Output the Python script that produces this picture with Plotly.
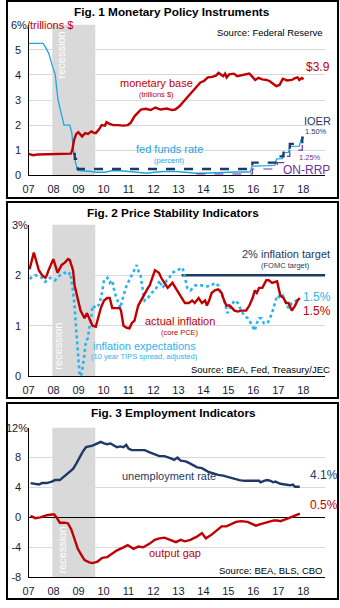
import plotly.graph_objects as go

W, H = 340, 608
FONT = "Liberation Sans, Arial, sans-serif"
RED = "#C00000"
NAVY = "#1F3864"
LBLUE = "#1EA6E0"
DOTBLUE = "#2AB4EE"
PURPLE = "#7030A0"
GRID = "#D9D9D9"
TICKCOL = "#1a1a3a"

year_ticks = list(range(2007, 2019))
year_labels = ["07", "08", "09", "10", "11", "12", "13", "14", "15", "16", "17", "18"]
recession = (2007.95, 2009.67)

# ---------- Fig 1 data ----------
mb_years = [2007.00, 2007.18, 2007.38, 2007.84, 2008.23, 2008.69, 2008.75, 2008.82, 2008.91, 2008.99,
            2009.14, 2009.27, 2009.38, 2009.51, 2009.60, 2009.69, 2009.80, 2009.93, 2010.06, 2010.12,
            2010.25, 2010.39, 2010.58, 2010.78, 2010.97, 2011.08, 2011.24, 2011.37, 2011.50, 2011.69,
            2011.89, 2012.08, 2012.28, 2012.54, 2012.74, 2012.87, 2013.04, 2013.26, 2013.52, 2013.72,
            2013.88, 2014.01, 2014.18, 2014.35, 2014.50, 2014.61, 2014.70, 2014.79, 2014.87, 2014.93,
            2015.03, 2015.22, 2015.35, 2015.55, 2015.75, 2015.84, 2015.94, 2016.07, 2016.20, 2016.36,
            2016.53, 2016.66, 2016.79, 2016.92, 2017.05, 2017.18, 2017.35, 2017.54, 2017.67, 2017.77,
            2017.84, 2017.94, 2018.01]
mb_vals = [0.85, 0.80, 0.83, 0.84, 0.85, 0.86, 1.00, 1.40, 1.65, 1.72,
           1.55, 1.68, 1.65, 1.75, 1.70, 1.68, 1.80, 2.00, 1.98, 2.12,
           2.05, 2.00, 2.00, 1.98, 2.00, 2.08, 2.35, 2.50, 2.62, 2.65,
           2.60, 2.70, 2.62, 2.66, 2.60, 2.62, 2.75, 3.00, 3.30, 3.55,
           3.70, 3.75, 3.90, 3.92, 3.97, 4.08, 4.00, 3.95, 4.05, 3.90,
           4.02, 4.05, 3.95, 3.98, 4.02, 4.05, 3.95, 3.80, 3.88, 3.82,
           3.80, 3.75, 3.65, 3.55, 3.60, 3.85, 3.78, 3.80, 3.87, 3.90,
           3.80, 3.88, 3.83]

ffr_years = [2007.00, 2007.58, 2007.68, 2007.81, 2007.94, 2008.07, 2008.12, 2008.18, 2008.25, 2008.33,
             2008.42, 2008.65, 2008.73, 2008.80, 2008.88, 2008.96, 2009.08, 2009.41, 2009.73, 2010.06,
             2010.32, 2010.58, 2010.97, 2011.37, 2011.76, 2012.02, 2012.41, 2012.93, 2013.46, 2013.72,
             2014.24, 2014.76, 2015.29, 2015.88, 2015.94, 2016.59, 2016.86, 2016.93, 2017.16, 2017.20,
             2017.41, 2017.45, 2017.84, 2017.91, 2017.97]
ffr_vals = [5.26, 5.26, 5.10, 4.85, 4.40, 4.00, 3.50, 3.00, 2.70, 2.30,
            2.00, 2.00, 1.70, 1.00, 0.50, 0.20, 0.18, 0.16, 0.12, 0.12,
            0.18, 0.19, 0.16, 0.10, 0.08, 0.12, 0.15, 0.15, 0.10, 0.08,
            0.09, 0.12, 0.13, 0.13, 0.36, 0.38, 0.40, 0.65, 0.66, 0.90,
            0.91, 1.15, 1.16, 1.42, 1.42]

ioer_years = [2008.78, 2008.85, 2008.90, 2008.97, 2015.96, 2016.96, 2017.21, 2017.46, 2017.96, 2018.02]
ioer_vals = [0.85, 0.65, 0.35, 0.25, 0.50, 0.75, 1.00, 1.25, 1.50, 1.50]

onrrp_years = [2013.72, 2015.96, 2016.96, 2017.21, 2017.46, 2017.96, 2018.02]
onrrp_vals = [0.05, 0.25, 0.50, 0.75, 1.00, 1.25, 1.25]

# ---------- Fig 2 data ----------
pce_years = [2007.04, 2007.21, 2007.41, 2007.54, 2007.67, 2007.73, 2007.80, 2007.99, 2008.16, 2008.32,
             2008.45, 2008.58, 2008.65, 2008.78, 2008.84, 2008.97, 2009.08, 2009.24, 2009.34, 2009.47,
             2009.56, 2009.69, 2009.76, 2009.89, 2010.02, 2010.15, 2010.25, 2010.35, 2010.54, 2010.65,
             2010.70, 2010.80, 2010.93, 2011.04, 2011.13, 2011.24, 2011.39, 2011.50, 2011.65, 2011.78,
             2011.85, 2011.98, 2012.06, 2012.22, 2012.31, 2012.44, 2012.57, 2012.76, 2012.96, 2013.09,
             2013.26, 2013.42, 2013.55, 2013.65, 2013.81, 2013.94, 2014.07, 2014.14, 2014.23, 2014.33,
             2014.46, 2014.59, 2014.73, 2014.83, 2014.92, 2015.05, 2015.25, 2015.38, 2015.51, 2015.71,
             2015.84, 2015.97, 2016.06, 2016.14, 2016.23, 2016.36, 2016.52, 2016.62, 2016.75, 2016.95,
             2017.08, 2017.21, 2017.31, 2017.41, 2017.54, 2017.67, 2017.77, 2017.86]
pce_vals = [2.12, 2.45, 2.10, 2.00, 1.95, 2.00, 2.10, 2.32, 2.05, 2.20,
            2.25, 2.32, 2.30, 2.10, 1.80, 1.50, 1.30, 1.15, 1.25, 1.10,
            1.00, 0.98, 1.10, 1.35, 1.50, 1.55, 1.55, 1.35, 1.35, 1.35,
            1.30, 1.00, 0.96, 0.95, 1.05, 1.10, 1.40, 1.50, 1.65, 1.75,
            1.80, 2.00, 2.10, 2.05, 1.95, 1.85, 1.75, 1.85, 1.70, 1.60,
            1.45, 1.45, 1.50, 1.45, 1.55, 1.45, 1.50, 1.40, 1.50, 1.65,
            1.70, 1.72, 1.65, 1.50, 1.40, 1.40, 1.30, 1.28, 1.30, 1.30,
            1.40, 1.55, 1.70, 1.65, 1.75, 1.75, 1.90, 1.90, 1.85, 1.88,
            1.60, 1.55, 1.45, 1.45, 1.30, 1.40, 1.50, 1.55]

tips_years = [2007.04, 2007.27, 2007.54, 2007.67, 2007.86, 2008.06, 2008.25, 2008.45, 2008.58, 2008.67,
              2008.75, 2008.84, 2008.91, 2008.97, 2009.04, 2009.10, 2009.20, 2009.30, 2009.37, 2009.43,
              2009.52, 2009.56, 2009.69, 2009.82, 2009.92, 2010.02, 2010.15, 2010.25, 2010.35, 2010.45,
              2010.61, 2010.67, 2010.80, 2010.93, 2011.13, 2011.33, 2011.42, 2011.48, 2011.56, 2011.65,
              2011.78, 2011.92, 2012.05, 2012.18, 2012.24, 2012.35, 2012.44, 2012.53, 2012.63, 2012.76,
              2012.96, 2013.16, 2013.22, 2013.35, 2013.48, 2013.68, 2013.94, 2014.14, 2014.33, 2014.46,
              2014.59, 2014.73, 2014.86, 2014.96, 2015.05, 2015.18, 2015.25, 2015.38, 2015.51, 2015.64,
              2015.77, 2015.90, 2015.99, 2016.05, 2016.14, 2016.23, 2016.33, 2016.42, 2016.56, 2016.62,
              2016.75, 2016.95, 2017.08, 2017.18, 2017.31, 2017.41, 2017.54, 2017.73, 2017.86]
tips_vals = [1.93, 2.00, 1.95, 1.87, 1.95, 1.90, 2.00, 2.05, 2.00, 2.05,
             1.80, 1.40, 0.90, 0.40, 0.05, 0.00, 0.30, 0.70, 0.75, 0.95,
             1.20, 1.40, 1.35, 1.42, 1.60, 1.90, 1.95, 1.85, 1.90, 1.65,
             1.40, 1.35, 1.60, 1.80, 2.00, 2.20, 2.05, 2.00, 1.75, 1.50,
             1.55, 1.65, 1.70, 1.80, 1.90, 1.75, 1.80, 1.90, 1.95, 2.05,
             2.10, 2.15, 2.05, 1.75, 1.70, 1.80, 1.80, 1.78, 1.80, 1.85,
             1.80, 1.60, 1.45, 1.25, 1.35, 1.45, 1.50, 1.45, 1.30, 1.20,
             1.15, 1.05, 0.95, 0.90, 1.05, 1.15, 1.15, 1.05, 1.05, 1.10,
             1.25, 1.60, 1.55, 1.60, 1.45, 1.35, 1.45, 1.50, 1.50]

target_years = [2013.13, 2018.88]
target_vals = [2.0, 2.0]

# ---------- Fig 3 data ----------
ur_years = [2007.08, 2007.27, 2007.41, 2007.54, 2007.73, 2007.93, 2008.06, 2008.25, 2008.45, 2008.65,
            2008.78, 2008.91, 2009.04, 2009.17, 2009.30, 2009.43, 2009.56, 2009.76, 2009.89, 2010.02,
            2010.15, 2010.28, 2010.41, 2010.54, 2010.67, 2010.80, 2010.91, 2011.00, 2011.13, 2011.33,
            2011.52, 2011.65, 2011.85, 2012.05, 2012.24, 2012.44, 2012.57, 2012.70, 2012.83, 2012.96,
            2013.09, 2013.29, 2013.42, 2013.61, 2013.75, 2013.94, 2014.07, 2014.20, 2014.40, 2014.59,
            2014.79, 2014.99, 2015.25, 2015.44, 2015.64, 2015.84, 2016.03, 2016.23, 2016.29, 2016.42,
            2016.56, 2016.69, 2016.79, 2016.88, 2017.08, 2017.27, 2017.47, 2017.58, 2017.67, 2017.86]
ur_vals = [4.6, 4.5, 4.4, 4.6, 4.6, 4.8, 5.0, 5.0, 5.6, 6.1,
           6.5, 7.2, 8.1, 8.8, 9.4, 9.5, 9.6, 9.9, 10.1, 9.9,
           9.8, 9.9, 9.6, 9.4, 9.5, 9.4, 9.7, 9.2, 9.0, 9.0,
           9.1, 9.0, 8.7, 8.4, 8.2, 8.2, 8.1, 7.9, 7.7, 8.0,
           7.6, 7.5, 7.3, 7.0, 6.7, 6.6, 6.3, 6.1, 5.9, 5.7,
           5.6, 5.4, 5.1, 5.0, 4.9, 4.9, 4.9, 4.9, 4.7, 4.9,
           5.0, 4.9, 4.7, 4.8, 4.5, 4.4, 4.3, 4.4, 4.1, 4.1]

gap_years = [2007.08, 2007.27, 2007.47, 2007.73, 2007.93, 2008.03, 2008.12, 2008.25, 2008.45, 2008.58,
             2008.71, 2008.82, 2008.97, 2009.13, 2009.24, 2009.43, 2009.56, 2009.76, 2009.95, 2010.15,
             2010.35, 2010.54, 2010.80, 2010.97, 2011.20, 2011.39, 2011.59, 2011.85, 2012.05, 2012.24,
             2012.44, 2012.70, 2012.90, 2013.09, 2013.26, 2013.48, 2013.72, 2013.94, 2014.10, 2014.33,
             2014.53, 2014.73, 2014.92, 2015.12, 2015.31, 2015.51, 2015.77, 2015.97, 2016.10, 2016.29,
             2016.56, 2016.82, 2016.95, 2017.08, 2017.34, 2017.54, 2017.67, 2017.86]
gap_vals = [0.2, -0.1, 0.0, 0.3, 0.4, 0.4, 0.0, -0.7, -0.7, -0.8,
            -1.6, -2.7, -4.2, -5.1, -5.7, -6.0, -6.1, -5.9, -5.4, -5.3,
            -4.8, -4.4, -4.0, -3.7, -4.2, -3.9, -4.0, -3.5, -3.0, -2.8,
            -2.7, -3.0, -3.3, -3.0, -3.2, -3.0, -2.6, -2.1, -2.8, -2.3,
            -1.7, -1.2, -1.2, -0.9, -0.6, -0.5, -0.6, -0.9, -1.1, -0.9,
            -0.6, -0.4, -0.4, -0.5, -0.2, 0.1, 0.3, 0.5]


def px(x):
    return x / W


def py(y):
    return 1 - y / H


fig = go.Figure()

# panel 1
fig.add_trace(go.Scatter(x=ffr_years, y=ffr_vals, mode="lines", line=dict(color=LBLUE, width=1.3),
                         xaxis="x", yaxis="y"))
fig.add_trace(go.Scatter(x=onrrp_years, y=onrrp_vals, mode="lines", line=dict(color=PURPLE, width=1.2, dash="dash", shape="hv"),
                         xaxis="x", yaxis="y"))
fig.add_trace(go.Scatter(x=ioer_years, y=ioer_vals, mode="lines", line=dict(color=NAVY, width=2.3, dash="dash", shape="hv"),
                         xaxis="x", yaxis="y"))
fig.add_trace(go.Scatter(x=mb_years, y=mb_vals, mode="lines", line=dict(color=RED, width=2.4),
                         xaxis="x", yaxis="y"))
# panel 2
fig.add_trace(go.Scatter(x=target_years, y=target_vals, mode="lines", line=dict(color=NAVY, width=2.3),
                         xaxis="x2", yaxis="y2"))
fig.add_trace(go.Scatter(x=tips_years, y=tips_vals, mode="lines", line=dict(color=DOTBLUE, width=2.6, dash="dot"),
                         xaxis="x2", yaxis="y2"))
fig.add_trace(go.Scatter(x=pce_years, y=pce_vals, mode="lines", line=dict(color=RED, width=2.4),
                         xaxis="x2", yaxis="y2"))
# panel 3
fig.add_trace(go.Scatter(x=ur_years, y=ur_vals, mode="lines", line=dict(color=NAVY, width=2.4),
                         xaxis="x3", yaxis="y3"))
fig.add_trace(go.Scatter(x=gap_years, y=gap_vals, mode="lines", line=dict(color=RED, width=2.4),
                         xaxis="x3", yaxis="y3"))

xdom = [px(23), px(325)]
xrange_ = [2007, 2018.88]


def xax(anchor):
    return dict(domain=xdom, range=xrange_, anchor=anchor, tickvals=year_ticks, ticktext=year_labels,
                showgrid=False, zeroline=False, showline=True, linecolor="black", linewidth=1.3,
                ticks="", ticklabelstandoff=3, tickfont=dict(size=11, color=TICKCOL, family=FONT),
                fixedrange=True)


def yax(anchor, dom, rng, tv, tt, zeroline=False):
    return dict(domain=dom, range=rng, anchor=anchor, tickvals=tv, ticktext=tt,
                showgrid=True, gridcolor=GRID, gridwidth=1, zeroline=zeroline, zerolinecolor="black",
                zerolinewidth=1.3, showline=True, linecolor="black", linewidth=1.3, ticks="",
                ticklabelstandoff=4, tickfont=dict(size=11, color=TICKCOL, family=FONT), fixedrange=True)


shapes = []
# recession bands
for xa, ya in (("x", "y"), ("x2", "y2"), ("x3", "y3")):
    shapes.append(dict(type="rect", xref=xa, yref=ya + " domain", x0=recession[0], x1=recession[1],
                       y0=0, y1=1, fillcolor="#D9D9D9", line=dict(width=0), layer="below"))
# panel borders
for top, bot in ((1, 200), (204, 402), (407, 605)):
    shapes.append(dict(type="rect", xref="paper", yref="paper", x0=px(1), x1=px(338), y0=py(bot), y1=py(top),
                       line=dict(color="black", width=2), fillcolor="rgba(0,0,0,0)", layer="above"))

ann = []


def A(text, x, y, color="black", size=11, bold=False, xanchor="center", angle=0):
    if bold:
        text = "<b>" + text + "</b>"
    ann.append(dict(text=text, x=px(x), y=py(y), xref="paper", yref="paper", showarrow=False,
                    xanchor=xanchor, yanchor="middle", textangle=angle,
                    font=dict(family=FONT, size=size, color=color)))


# Panel 1
A("Fig. 1 Monetary Policy Instruments", 169, 12, size=11.8, bold=True)
A("6%<span style='color:" + RED + "'>/trillions $</span>", 3, 25, color=TICKCOL, size=11, xanchor="left")
A("Source: Federal Reserve", 269, 33, size=9.5)
A("recession", 56, 56, color="white", size=11, angle=-90)
A("monetary base", 153, 84, color=RED, size=11)
A("(trillions $)", 153, 95, color=RED, size=7.5)
A("$3.9", 318, 68, color=RED, size=12)
A("fed funds rate", 166, 150, color=LBLUE, size=11)
A("(percent)", 166, 162, color=LBLUE, size=7.5)
A("IOER", 317, 122, color=NAVY, size=11)
A("1.50%", 316, 133, color=NAVY, size=7.5)
A("1.25%", 309, 159, color=PURPLE, size=7.5)
A("ON-RRP", 306, 172, color=PURPLE, size=12)

# Panel 2
A("Fig. 2 Price Stability Indicators", 170, 215, size=11.8, bold=True)
A("3%", 24, 227, color=TICKCOL, size=11, xanchor="right")
A("2% inflation target", 285, 257, color=NAVY, size=11)
A("(FOMC target)", 285, 268, color=NAVY, size=7.5)
A("1.5%", 317, 300, color=DOTBLUE, size=12)
A("1.5%", 317, 314, color=RED, size=12)
A("actual inflation", 177, 324, color=RED, size=11)
A("(core PCE)", 177, 336, color=RED, size=7.5)
A("inflation expectations", 141, 349, color=DOTBLUE, size=11)
A("(10 year TIPS spread, adjusted)", 141, 360, color=DOTBLUE, size=7.5)
A("Source: BEA, Fed, Treasury/JEC", 259, 373, size=9.5)
A("recession", 52, 350, color="white", size=11, angle=-90)

# Panel 3
A("Fig. 3 Employment Indicators", 170, 417, size=11.8, bold=True)
A("12%", 24, 432, color=TICKCOL, size=11, xanchor="right")
A("unemployment rate", 166, 481, color=NAVY, size=11)
A("4.1%", 324, 480, color=NAVY, size=12)
A("0.5%", 324, 510, color=RED, size=12)
A("output gap", 172, 559, color=RED, size=11)
A("Source: BEA, BLS, CBO", 270, 576, size=9.5)
A("recession", 57, 555, color="white", size=11, angle=-90)

fig.update_layout(
    width=W, height=H, margin=dict(l=0, r=0, t=0, b=0), autosize=False,
    paper_bgcolor="white", plot_bgcolor="rgba(0,0,0,0)", showlegend=False,
    font=dict(family=FONT, size=11),
    xaxis=xax("y"), xaxis2=xax("y2"), xaxis3=xax("y3"),
    yaxis=yax("x", [py(177), py(25)], [0, 6], [0, 1, 2, 3, 4, 5, 6], ["0", "1", "2", "3", "4", "5", ""]),
    yaxis2=yax("x2", [py(380), py(227)], [0, 3], [0, 1, 2, 3], ["0", "1", "2", ""]),
    yaxis3=yax("x3", [py(583), py(432)], [-8, 12], [-8, -4, 0, 4, 8, 12], ["-8", "-4", "0", "4", "8", ""], zeroline=True),
    shapes=shapes, annotations=ann,
)

fig.write_html("out.html", config={"displayModeBar": False})
